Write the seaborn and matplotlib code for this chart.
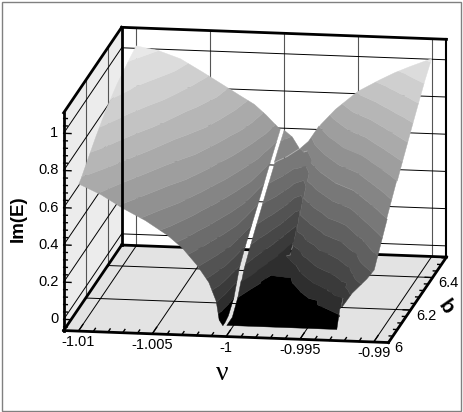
import numpy as np
import matplotlib
matplotlib.use("Agg")
import matplotlib.pyplot as plt
import matplotlib.tri as mtri
from matplotlib.patches import Rectangle
from mpl_toolkits.mplot3d import proj3d
from mpl_toolkits.mplot3d.art3d import Poly3DCollection
import seaborn as sns

# Values: Im(E) over (nu, b), two sheets either side of nu = -1
b_rows = [6, 6.02, 6.05, 6.1, 6.15, 6.2, 6.25, 6.3, 6.35, 6.4, 6.46, 6.52]

nu_left = [-1.01, -1.0085, -1.007, -1.0055, -1.004, -1.003, -1.002, -1.0012, -1.0007, -1.0005, -1.00025]
z_left = [
    [.733, .745, .77, .81, .85, .885, .92, .945, .97, .985, 1.005, 1.021],
    [.68, .694, .716, .752, .787, .821, .853, .885, .914, .942, .974, 1.0],
    [.61, .626, .65, .689, .727, .764, .799, .834, .866, .897, .932, .96],
    [.55, .565, .589, .627, .664, .701, .735, .77, .80, .831, .866, .893],
    [.475, .493, .521, .565, .607, .647, .684, .719, .75, .778, .806, .823],
    [.41, .429, .458, .504, .548, .591, .63, .666, .70, .729, .758, .776],
    [.32, .342, .374, .426, .475, .523, .566, .607, .644, .678, .71, .73],
    [.23, .254, .289, .345, .398, .45, .497, .542, .582, .618, .654, .675],
    [.13, .165, .215, .28, .335, .39, .44, .49, .535, .575, .615, .635],
    [.03, .08, .14, .215, .28, .335, .39, .44, .49, .535, .585, .62],
    [0, 0, .01, .063, .18, .245, .30, .355, .41, .47, .535, .60],
]

nu_right = [-.99995, -.9994, -.9989, -.9983, -.9975, -.9965, -.995, -.9935, -.9925, -.9923, -.9915, -.9905, -.99]
z_right = [
    [0, 0, 0, .063, .17, .235, .295, .352, .41, .465, .533, .595],
    [0, 0, 0, 0, .04, .12, .20, .28, .35, .415, .49, .56],
    [0, 0, 0, 0, 0, 0, .08, .165, .265, .337, .42, .497],
    [0, 0, 0, 0, 0, 0, 0, 0, .063, .17, .34, .54],
    [0, 0, 0, 0, 0, 0, .103, .241, .349, .442, .542, .635],
    [0, 0, 0, 0, 0, .127, .246, .348, .442, .529, .627, .72],
    [0, 0, 0, .026, .166, .276, .374, .464, .55, .633, .728, .82],
    [0, 0, .063, .158, .261, .356, .446, .533, .617, .698, .794, .887],
    [0, .063, .117, .25, .355, .441, .523, .603, .681, .756, .845, .928],
    [.11, .13, .19, .27, .372, .456, .537, .615, .692, .765, .853, .935],
    [.20, .235, .285, .355, .437, .515, .591, .664, .737, .807, .889, .963],
    [.28, .315, .365, .437, .511, .582, .652, .72, .787, .852, .929, .995],
    [.33, .36, .403, .475, .545, .613, .68, .745, .81, .873, .947, 1.01],
]

# edge of the black band on the right sheet, read as extra points
edge_nu = [-.9995, -.9991, -.99875, -.99844, -.99732, -.9968, -.99606, -.9952, -.99435]
edge_b = [6.15, 6.19, 6.24, 6.287, 6.23, 6.19, 6.148, 6.11, 6.074]
edge_z = [.063] * len(edge_nu)

nu_ticks = [-1.01, -1.005, -1, -0.995, -0.99]
nu_tick_labels = ["-1.01", "-1.005", "-1", "-0.995", "-0.99"]
b_ticks = [6, 6.2, 6.4]
b_tick_labels = ["6", "6.2", "6.4"]
z_ticks = [0, 0.2, 0.4, 0.6, 0.8, 1]
z_tick_labels = ["0", "0.2", "0.4", "0.6", "0.8", "1"]

NU_LIM = (-1.011, -0.989)
B_LIM = (6, 6.526)
Z_LIM = (-0.06, 1.11)
levels = [-0.5] + [0.0625 * k for k in range(1, 17)] + [1.5]

sns.set_theme(style="white")
plt.rcParams["font.family"] = ["Liberation Sans", "DejaVu Sans"]

W, H = 463, 412
AX_SIZE = 412
CX, CY = 249.5, 190.5

# gray bands, black at the bottom
band_colors = [(0, 0, 0)] + sns.blend_palette(["#2e2e2e", "#e8e8e8"], n_colors=len(levels) - 2)


def sheet_bands(nu, z, extra_nu=(), extra_b=(), extra_z=()):
    """Flooded contour bands of one sheet, lifted back to 3D."""
    X, Y = np.meshgrid(nu, b_rows, indexing="ij")
    # nu is scaled so both directions are about the same size for the triangulation
    xs = np.r_[X.ravel(), extra_nu]
    ys = np.r_[Y.ravel(), extra_b]
    zs = np.r_[np.array(z, dtype=float).ravel(), extra_z]
    tri = mtri.Triangulation((xs + 1) * 26, ys)
    interp = mtri.LinearTriInterpolator(tri, zs)
    tmp_fig, tmp_ax = plt.subplots()
    cs = tmp_ax.tricontourf(tri, zs, levels=levels)
    out = []
    xlo, xhi = tri.x.min(), tri.x.max()
    ylo, yhi = tri.y.min(), tri.y.max()
    for path in cs.get_paths():
        polys = []
        for ring in path.to_polygons(closed_only=True):
            px = np.clip(ring[:, 0], xlo + 1e-9, xhi - 1e-9)
            py = np.clip(ring[:, 1], ylo + 1e-9, yhi - 1e-9)
            pz = np.ma.filled(interp(px, py), 0.0)
            polys.append(np.column_stack([px / 26 - 1, py, pz]))
        out.append(polys)
    plt.close(tmp_fig)
    return out


fig = plt.figure(figsize=(W / 100, H / 100), dpi=100, facecolor="white")
ax = fig.add_axes([(CX - AX_SIZE / 2) / W, 1 - (CY + AX_SIZE / 2) / H, AX_SIZE / W, AX_SIZE / H],
                  projection="3d", computed_zorder=False)
ax.set_proj_type("ortho")
ax.view_init(elev=13.5, azim=-81)
ax.set_box_aspect((329, 371, 224), zoom=528 / AX_SIZE)
ax.set_xlim(*NU_LIM)
ax.set_ylim(*B_LIM)
ax.set_zlim(*Z_LIM)
ax.set_axis_off()

x0, x1 = NU_LIM
y0, y1 = B_LIM
z0, z1 = Z_LIM

# walls and floor
ax.add_collection3d(Poly3DCollection([[(x0, y0, z0), (x1, y0, z0), (x1, y1, z0), (x0, y1, z0)]],
                                     facecolor="#e3e3e3", edgecolor="none", zorder=1))
ax.add_collection3d(Poly3DCollection([[(x0, y0, z0), (x0, y1, z0), (x0, y1, z1), (x0, y0, z1)]],
                                     facecolor="#ececec", edgecolor="none", zorder=1))


def seg(a, b, color="black", lw=0.7, zorder=2):
    ax.plot([a[0], b[0]], [a[1], b[1]], [a[2], b[2]], color=color, lw=lw, zorder=zorder,
            solid_capstyle="projecting")


def label(x, y, z, s, **kw):
    # 3D position to 2D, so the text sits in the axes like normal text
    px, py, _ = proj3d.proj_transform(x, y, z, ax.get_proj())
    ax.text2D(px, py, s, transform=ax.transData, color="black", zorder=5, **kw)


# grid
for nu in nu_ticks:
    seg((nu, y0, z0), (nu, y1, z0), lw=0.7)
    seg((nu, y1, z0), (nu, y1, z1), color="#555555", lw=0.8)
for b in b_ticks[1:]:
    seg((x0, b, z0), (x1, b, z0), lw=0.7)
    seg((x0, b, z0), (x0, b, z1), color="#555555", lw=0.8)
for z in z_ticks:
    seg((x0, y0, z), (x0, y1, z), lw=0.7)
    seg((x0, y1, z), (x1, y1, z), lw=0.7)

# surface
for k, polys in enumerate(sheet_bands(nu_left, z_left)):
    if polys:
        ax.add_collection3d(Poly3DCollection(polys, facecolor=band_colors[k], edgecolor=band_colors[k],
                                             linewidth=0.3, zorder=3))
for k, polys in enumerate(sheet_bands(nu_right, z_right, edge_nu, edge_b, edge_z)):
    if polys:
        ax.add_collection3d(Poly3DCollection(polys, facecolor=band_colors[k], edgecolor=band_colors[k],
                                             linewidth=0.3, zorder=3))

# box edges
for a, b, lw in [((x0, y0, z0), (x1, y0, z0), 2), ((x0, y0, z0), (x0, y0, z1), 2), ((x0, y0, z1), (x0, y1, z1), 2),
                 ((x0, y1, z1), (x1, y1, z1), 2), ((x0, y1, z0), (x0, y1, z1), 2), ((x1, y1, z0), (x1, y1, z1), 1.5),
                 ((x0, y0, z0), (x0, y1, z0), 2), ((x1, y0, z0), (x1, y1, z0), 2)]:
    seg(a, b, lw=lw, zorder=4)
seg((x0, y1, z0), (x1, y1, z0), lw=2, zorder=2)

# ticks, minor ones as well
for nu in np.arange(-1.011 + 0.001, -0.989, 0.001):
    major = any(abs(nu - t) < 1e-6 for t in nu_ticks)
    seg((nu, y0, z0), (nu, y0 + (0.04 if major else 0.02), z0), lw=1.0, zorder=4)
for k in range(1, 14):
    b = 6 + 0.04 * k
    major = any(abs(b - t) < 1e-6 for t in b_ticks)
    seg((x1, b, z0), (x1 - (0.0005 if major else 0.00025), b, z0), lw=1.0, zorder=4)
for k in range(-1, 28):
    z = 0.04 * k
    major = any(abs(z - t) < 1e-6 for t in z_ticks)
    seg((x0, y0, z), (x0 + (0.0005 if major else 0.00025), y0, z), lw=1.0, zorder=4)

# tick labels
for nu, s in zip(nu_ticks, nu_tick_labels):
    label(nu, y0, z0 - 0.06, s, ha="center", va="center", fontsize=10.5)
for z, s in zip(z_ticks, z_tick_labels):
    label(x0 - 0.00035, y0, z, s, ha="right", va="center", fontsize=10.5)
for b, s in zip(b_ticks, b_tick_labels):
    label(x1 + 0.0004, b, z0 - 0.03, s, ha="left", va="center", fontsize=10.5)

# axis titles
fig.text(222 / W, 1 - 373 / H, "\u03bd", family="Liberation Serif", fontsize=20, ha="center", va="center", color="black")
fig.text(18 / W, 1 - 219 / H, "Im(E)", fontsize=13.5, fontweight="bold", rotation=90, ha="center", va="center", color="black")
fig.text(446 / W, 1 - 307 / H, "b", fontsize=15, fontweight="bold", rotation=-55, ha="center", va="center", color="black")

# frame around the figure
fig.add_artist(Rectangle((1.5 / W, 1 - 410.5 / H), 459.5 / W, 409 / H, transform=fig.transFigure,
                         fill=False, edgecolor="#808080", lw=1))

fig.savefig("out.png", dpi=100)
plt.close(fig)
